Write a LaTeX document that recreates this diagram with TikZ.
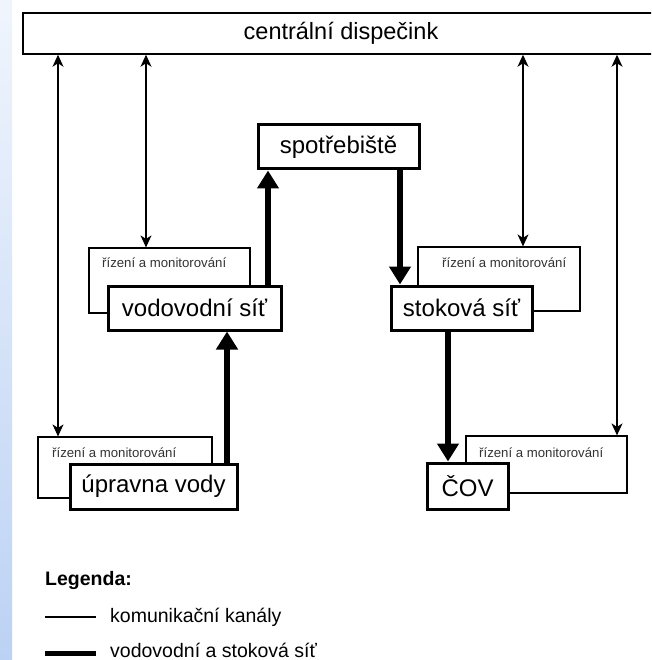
\documentclass[tikz,border=0pt]{standalone}
\usepackage{fontspec}
\setmainfont{Liberation Sans}
\usetikzlibrary{arrows.meta}
\definecolor{stripTop}{RGB}{240,245,253}
\definecolor{stripBot}{RGB}{188,210,244}
\tikzset{
  thinbox/.style={draw=black, line width=1.2pt, fill=white, inner sep=0pt},
  mainbox/.style={draw=black, line width=3pt, fill=white, inner sep=0pt, font=\fontsize{24}{28}\selectfont},
  smalltxt/.style={anchor=west, inner sep=0pt, font=\fontsize{13.2}{16}\selectfont, text=black!80},
  thinarrow/.style={line width=1.2pt, {Stealth[length=12pt,width=11pt,inset=3.5pt]}-{Stealth[length=12pt,width=11pt,inset=3.5pt]}},
  thickarrow/.style={line width=6pt, -{Triangle[length=18pt,width=21pt]}},
  legtxt/.style={anchor=west, inner sep=0pt, font=\fontsize{19.5}{23}\selectfont}
}
\begin{document}
\begin{tikzpicture}[x=1pt,y=-1pt]
\clip (0,0) rectangle (651,660);
\fill[white] (0,0) rectangle (651,660);
\shade[top color=stripTop, bottom color=stripBot] (0,0) rectangle (12,660);

% central dispatch
\node[thinbox, line width=1.5pt, minimum width=636pt, minimum height=41pt, font=\fontsize{23.5}{28}\selectfont] (disp) at (341,33.5) {centrální dispečink};

% control boxes (behind)
\node[thinbox, minimum width=161pt, minimum height=65pt] (vodR) at (169.5,280.5) {};
\node[smalltxt] (vodRt) at (102,263) {řízení a monitorování};
\node[thinbox, minimum width=162pt, minimum height=64pt] (stokR) at (499,279) {};
\node[smalltxt] (stokRt) at (442,263) {řízení a monitorování};
\node[thinbox, minimum width=174pt, minimum height=61pt] (uprR) at (125,467.5) {};
\node[smalltxt] (uprRt) at (52,453) {řízení a monitorování};
\node[thinbox, minimum width=161pt, minimum height=57pt] (covR) at (546.5,464.5) {};
\node[smalltxt] (covRt) at (479,453) {řízení a monitorování};

% main boxes
\node[mainbox, minimum width=161pt, minimum height=44pt] (spot) at (338.5,147) {spotřebiště};
\node[mainbox, minimum width=173pt, minimum height=44pt] (vod) at (194.5,308) {vodovodní síť};
\node[mainbox, minimum width=141pt, minimum height=44pt] (stok) at (461.5,308) {stoková síť};
\node[mainbox, minimum width=167pt, minimum height=45pt] (upr) at (153.5,486.5) {úpravna vody};
\node[mainbox, minimum width=81pt, minimum height=46pt] (cov) at (467.5,486) {ČOV};

% communication channels
\draw[thinarrow] (58,0 |- disp.south) -- (58,0 |- uprR.north);
\draw[thinarrow] (146,0 |- disp.south) -- (146,0 |- vodR.north);
\draw[thinarrow] (523,0 |- disp.south) -- (523,0 |- stokR.north);
\draw[thinarrow] (617,0 |- disp.south) -- (617,0 |- covR.north);

% water and sewer network
\draw[thickarrow] (268,0 |- vod.north) -- (268,0 |- spot.south);
\draw[thickarrow] (400,0 |- spot.south) -- (400,0 |- stok.north);
\draw[thickarrow] (227,0 |- upr.north) -- (227,0 |- vod.south);
\draw[thickarrow] (448,0 |- stok.south) -- (448,0 |- cov.north);

% legend
\node[legtxt, font=\fontsize{19.5}{23}\selectfont\bfseries] (leg) at (45,580) {Legenda:};
\coordinate (l1a) at (45,617);
\coordinate (l1b) at (96,617);
\draw[line width=1.2pt] (l1a) -- (l1b);
\node[legtxt] (l1t) at (110,617) {komunikační kanály};
\coordinate (l2a) at (45,653);
\coordinate (l2b) at (96,653);
\draw[line width=5pt] (l2a) -- (l2b);
\node[legtxt] (l2t) at (110,650) {vodovodní a stoková síť};
\end{tikzpicture}
\end{document}
